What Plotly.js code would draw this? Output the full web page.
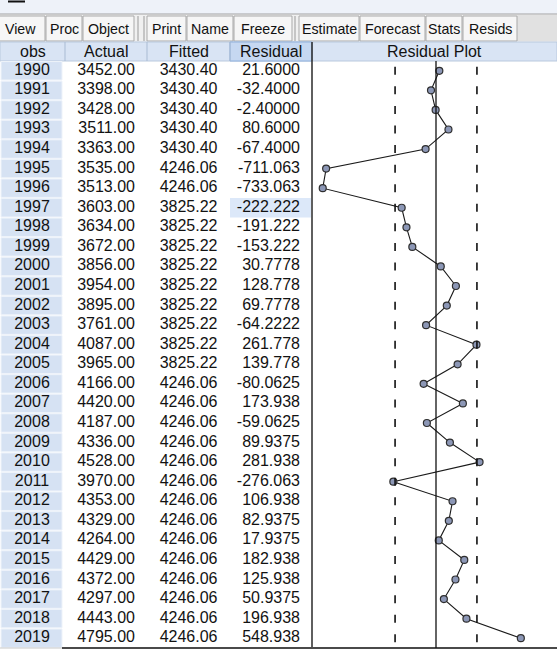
<!DOCTYPE html>
<html><head><meta charset="utf-8">
<script src="https://cdn.plot.ly/plotly-3.0.1.min.js"></script>
<style>html,body{margin:0;padding:0;background:#fff;overflow:hidden}</style>
</head><body><div id="chart" style="width:557px;height:652px"></div>
<script>
// ---------------- data ----------------
const years = ['1990','1991','1992','1993','1994','1995','1996','1997','1998','1999',
  '2000','2001','2002','2003','2004','2005','2006','2007','2008','2009',
  '2010','2011','2012','2013','2014','2015','2016','2017','2018','2019'];
const actual = [3452,3398,3428,3511,3363,3535,3513,3603,3634,3672,
  3856,3954,3895,3761,4087,3965,4166,4420,4187,4336,
  4528,3970,4353,4329,4264,4429,4372,4297,4443,4795];
const fitted = [3430.40,3430.40,3430.40,3430.40,3430.40,4246.06,4246.06,3825.22,3825.22,3825.22,
  3825.22,3825.22,3825.22,3825.22,3825.22,3825.22,4246.06,4246.06,4246.06,4246.06,
  4246.06,4246.06,4246.06,4246.06,4246.06,4246.06,4246.06,4246.06,4246.06,4246.06];
const residual = [21.6000,-32.4000,-2.40000,80.6000,-67.4000,-711.063,-733.063,-222.222,-191.222,-153.222,
  30.7778,128.778,69.7778,-64.2222,261.778,139.778,-80.0625,173.938,-59.0625,89.9375,
  281.938,-276.063,106.938,82.9375,17.9375,182.938,125.938,50.9375,196.938,548.938];
const seRegression = 264.9;           // +/- 1 S.E. band of the residual plot
const columnHeaders = ['obs','Actual','Fitted','Residual','Residual Plot'];
const toolbarButtons = ['View','Proc','Object','Print','Name','Freeze','Estimate','Forecast','Stats','Resids'];
const selectedObs = '1997';

// ---------------- geometry / style (pixels) ----------------
const W = 557, H = 652;
const py = v => 1 - v / H;            // pixel row -> paper y
const pxp = v => v / W;               // pixel col -> paper x
const TOOL_TOP = 14, BTN_TOP = 16, BTN_BOT = 41;
const HEAD_TOP = 42, BODY_TOP = 61, BODY_BOT = 648;
const TABLE_RIGHT = 312;
const colEdges = [0, 65, 147, 230, 312];            // header cell edges
const btnEdges = [[-4,45],[46,82],[83,134],[147,186],[187,233],[234,292],[299,359],[360,425],[426,462],[463,517]];
const FONT = 'Liberation Sans, Arial, sans-serif';
const TXT = '#121212';
const FS = 16;

const shapes = [];
const annotations = [];
const rect = (x0,x1,y0,y1,fill,line,lw) => shapes.push({type:'rect',xref:'paper',yref:'paper',
  x0:pxp(x0),x1:pxp(x1),y0:py(y1),y1:py(y0),fillcolor:fill,line:{color:line||fill,width:lw===undefined?0:lw},layer:'below'});
const hline = (x0,x1,y,color,w) => shapes.push({type:'line',xref:'paper',yref:'paper',x0:pxp(x0),x1:pxp(x1),y0:py(y),y1:py(y),line:{color:color,width:w}});
const vline = (x,y0,y1,color,w) => shapes.push({type:'line',xref:'paper',yref:'paper',x0:pxp(x),x1:pxp(x),y0:py(y0),y1:py(y1),line:{color:color,width:w}});

// window chrome
rect(0,W,0,TOOL_TOP,'#eef2f9');
hline(8,25,1.5,'#111',2);
rect(0,W,TOOL_TOP,HEAD_TOP,'#f0f0f0');
rect(517,W,TOOL_TOP+1,HEAD_TOP-1,'#e1e1e1');
hline(0,W,TOOL_TOP,'#a3a3a3',1);
btnEdges.forEach((b,i) => {
  rect(b[0],b[1],BTN_TOP,BTN_BOT,'#f6f6f6','#a9a9a9',1);
  annotations.push({xref:'paper',yref:'paper',x:pxp((b[0]+b[1])/2),y:py((BTN_TOP+BTN_BOT)/2),
    text:toolbarButtons[i],showarrow:false,xanchor:'center',yanchor:'middle',
    font:{family:FONT,size:14.2,color:'#111'}});
});
[138,144,295].forEach(x => vline(x,BTN_TOP,BTN_BOT,'#9a9a9a',1));

// header row
rect(0,W,HEAD_TOP,BODY_TOP,'#d9e4f4','#b9c9de',1);
rect(colEdges[3],colEdges[4],HEAD_TOP,BODY_TOP,'#c6d8f1','#8fb0dc',1);
colEdges.slice(1).forEach(x => vline(x,HEAD_TOP,BODY_TOP,'#a9bbd3',1));
columnHeaders.forEach((t,i) => {
  const c = i < 4 ? (colEdges[i]+colEdges[i+1])/2 : (TABLE_RIGHT+W)/2;
  annotations.push({xref:'paper',yref:'paper',x:pxp(c),y:py((HEAD_TOP+BODY_TOP)/2),text:t,showarrow:false,
    xanchor:'center',yanchor:'middle',font:{family:FONT,size:FS,color:TXT}});
});

// body cells (obs column + selected cell) on the table axis
years.forEach((yr,i) => {
  shapes.push({type:'rect',xref:'x2',yref:'y',x0:1,x1:62,y0:i-0.5+0.03,y1:i+0.5-0.03,
    fillcolor:'#d6e2f3',line:{color:'#eef3fa',width:1},layer:'below'});
});
const si = years.indexOf(selectedObs);
shapes.push({type:'rect',xref:'x2',yref:'y',x0:230,x1:311,y0:si-0.5,y1:si+0.5,fillcolor:'#dce8f9',line:{width:0},layer:'below'});

// borders
vline(TABLE_RIGHT,HEAD_TOP,BODY_BOT,'#2a2a2a',1.5);
hline(62,W,BODY_BOT,'#4a4a4a',2);
hline(0,62,BODY_BOT,'#c8c8c8',1);

// residual plot reference lines
shapes.push({type:'line',xref:'x',yref:'y',x0:0,x1:0,y0:-0.5,y1:years.length-0.5,line:{color:'#111',width:1.3}});
[-seRegression, seRegression].forEach(v => shapes.push({type:'line',xref:'x',yref:'y',x0:v,x1:v,
  y0:-0.5+5.8/19.57,y1:years.length-0.5,line:{color:'#111',width:1.6,dash:'8px,11.57px'}}));

// ---------------- traces ----------------
const txt = (vals, xpos, pos) => ({type:'scatter',mode:'text',xaxis:'x2',yaxis:'y',
  x:vals.map(() => xpos),y:years,text:vals,textposition:pos,
  textfont:{family:FONT,size:FS,color:TXT},hoverinfo:'skip',cliponaxis:false,showlegend:false});

const traces = [
  txt(years, 32, 'middle center'),
  txt(actual.map(v => v.toFixed(2)), 135, 'middle left'),
  txt(fitted.map(v => v.toFixed(2)), 217.5, 'middle left'),
  txt(residual.map(v => v.toPrecision(6)), 300, 'middle left'),
  {type:'scatter',mode:'lines+markers',x:residual,y:years,xaxis:'x',yaxis:'y',
   line:{color:'#1a1a1a',width:1.1},
   marker:{symbol:'circle',size:7,color:'#8c97b6',line:{color:'#2e2e2e',width:1.2}},
   cliponaxis:false,showlegend:false,hoverinfo:'skip'}
];

const layout = {
  width:W,height:H,margin:{l:0,r:0,t:0,b:0,pad:0},
  paper_bgcolor:'#ffffff',plot_bgcolor:'rgba(0,0,0,0)',showlegend:false,
  xaxis:{domain:[pxp(313),1],range:[-796,783],visible:false,fixedrange:true,anchor:'y'},
  xaxis2:{domain:[0,pxp(TABLE_RIGHT)],range:[0,TABLE_RIGHT],visible:false,fixedrange:true,anchor:'y'},
  yaxis:{type:'category',categoryorder:'array',categoryarray:years,range:[years.length-0.5,-0.5],
    domain:[py(BODY_BOT),py(BODY_TOP)],visible:false,fixedrange:true},
  shapes:shapes,annotations:annotations
};
Plotly.newPlot('chart',traces,layout,{staticPlot:true,displayModeBar:false});
</script></body></html>
